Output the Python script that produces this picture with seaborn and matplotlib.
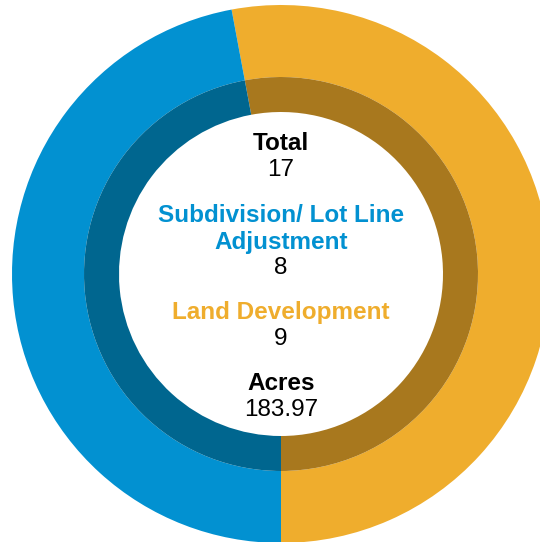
import seaborn as sns
import matplotlib.pyplot as plt

# data
categories = ["Land Development", "Subdivision/ Lot Line Adjustment"]
counts = [9, 8]
total = 17
acres = "183.97"

outer_colors = ["#efad2d", "#0291d1"]
inner_colors = ["#a8781e", "#00668f"]

sns.set_theme(style="white")
plt.rcParams['font.family'] = ['Liberation Sans', 'DejaVu Sans']

fig = plt.figure(figsize=(5.4, 5.42), dpi=100)
ax = fig.add_axes([0, 0, 1, 1])

# outer ring
ax.pie(counts, radius=269, colors=outer_colors, startangle=-90, counterclock=True,
       wedgeprops=dict(width=72, linewidth=0))
# inner darker ring
ax.pie(counts, radius=197, colors=inner_colors, startangle=-90, counterclock=True,
       wedgeprops=dict(width=35, linewidth=0))

ax.set_xlim(-281, 259)
ax.set_ylim(-268, 274)
ax.set_aspect('equal')
ax.axis('off')

def put(y_px, s, color="black", bold=False):
    ax.text(0, 274 - y_px, s, ha='center', va='center', fontsize=17.5,
            color=color, fontweight='bold' if bold else 'normal')

put(144, "Total", bold=True)
put(170, str(total))
put(215, "Subdivision/ Lot Line", color=outer_colors[1], bold=True)
put(242, "Adjustment", color=outer_colors[1], bold=True)
put(268, str(counts[1]))
put(313, categories[0], color=outer_colors[0], bold=True)
put(339, str(counts[0]))
put(383, "Acres", bold=True)
put(410, acres)

fig.savefig("out.png", dpi=100)
